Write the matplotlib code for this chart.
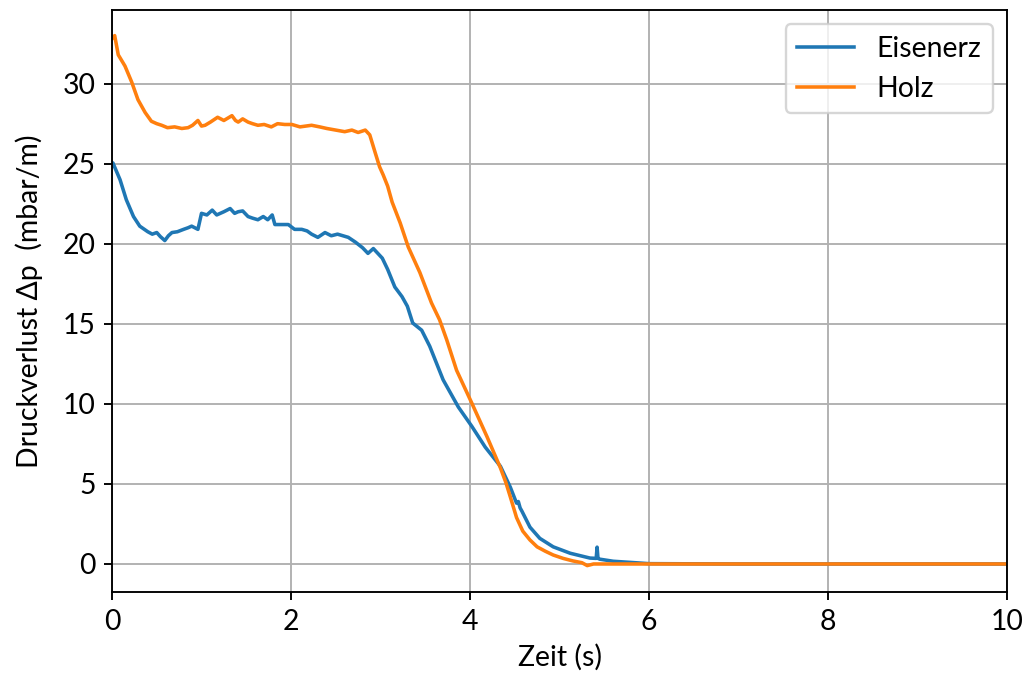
import matplotlib
matplotlib.use("Agg")
import matplotlib.pyplot as plt

plt.rcParams['font.family'] = ['Lato', 'DejaVu Sans']
plt.rcParams['font.size'] = 12

# Holz (orange)
t_holz = [0.0, 0.03, 0.07, 0.145, 0.22, 0.29, 0.37, 0.44, 0.5, 0.555, 0.62, 0.7, 0.78, 0.85, 0.9, 0.96, 1.0, 1.04,
          1.1, 1.18, 1.25, 1.34, 1.38, 1.41, 1.46, 1.52, 1.57, 1.63, 1.7, 1.78, 1.85, 1.93, 2.01, 2.1, 2.23,
          2.32, 2.4, 2.5, 2.6, 2.68, 2.75, 2.83, 2.88, 2.94, 2.99, 3.03, 3.08, 3.13, 3.22, 3.31, 3.44,
          3.57, 3.66, 3.74, 3.85, 4.02, 4.19, 4.34, 4.4, 4.45, 4.52, 4.59, 4.67, 4.75, 4.84, 4.93, 5.04,
          5.15, 5.25, 5.31, 5.38, 5.45, 5.6, 6.0, 7.0, 8.0, 9.0, 10.0]
v_holz = [32.8, 33.0, 31.8, 31.1, 30.1, 29.0, 28.2, 27.65, 27.5, 27.4, 27.25, 27.3, 27.2, 27.25, 27.4, 27.7, 27.35, 27.4,
          27.6, 27.9, 27.7, 28.0, 27.7, 27.6, 27.8, 27.6, 27.5, 27.4, 27.45, 27.3, 27.5, 27.45, 27.45, 27.3, 27.4,
          27.3, 27.2, 27.1, 27.0, 27.1, 26.95, 27.1, 26.8, 25.7, 24.8, 24.3, 23.6, 22.6, 21.3, 19.8, 18.2,
          16.3, 15.25, 14.0, 12.1, 10.05, 7.95, 6.0, 5.1, 4.2, 2.9, 2.05, 1.5, 1.07, 0.8, 0.56, 0.35,
          0.19, 0.08, -0.1, 0.0, 0.0, 0.0, 0.0, 0.0, 0.0, 0.0, 0.0]

# Eisenerz (blue)
t_eisen = [0.0, 0.01, 0.09, 0.16, 0.24, 0.31, 0.4, 0.45, 0.5, 0.54, 0.59, 0.63, 0.67, 0.73, 0.8, 0.85, 0.89, 0.96,
           1.0, 1.06, 1.12, 1.17, 1.25, 1.32, 1.37, 1.41, 1.46, 1.52, 1.57, 1.63, 1.69, 1.74, 1.79, 1.82,
           1.9, 1.97, 2.04, 2.12, 2.18, 2.23, 2.3, 2.38, 2.45, 2.52, 2.58, 2.64, 2.72, 2.8, 2.86, 2.92,
           2.97, 3.02, 3.08, 3.16, 3.24, 3.3, 3.36, 3.46, 3.55, 3.7, 3.87, 4.02, 4.17, 4.34, 4.45, 4.52,
           4.54, 4.56, 4.58, 4.67, 4.78, 4.93, 5.12, 5.34, 5.41, 5.42, 5.43, 5.45, 5.6, 5.79, 6.0, 7.0,
           8.0, 9.0, 10.0]
v_eisen = [24.9, 25.05, 24.0, 22.75, 21.7, 21.1, 20.75, 20.6, 20.7, 20.45, 20.2, 20.5, 20.7, 20.75, 20.9, 21.0, 21.1, 20.9,
           21.9, 21.8, 22.1, 21.8, 22.0, 22.2, 21.9, 22.0, 22.05, 21.7, 21.6, 21.5, 21.7, 21.5, 21.8, 21.2,
           21.2, 21.2, 20.9, 20.9, 20.8, 20.6, 20.4, 20.7, 20.5, 20.6, 20.5, 20.4, 20.1, 19.75, 19.4, 19.7,
           19.4, 19.1, 18.4, 17.3, 16.7, 16.1, 15.05, 14.6, 13.6, 11.5, 9.8, 8.6, 7.3, 6.1, 4.8, 3.8,
           3.9, 3.5, 3.3, 2.3, 1.6, 1.07, 0.67, 0.37, 0.35, 1.05, 0.35, 0.3, 0.17, 0.1, 0.02, 0.0,
           0.0, 0.0, 0.0]

x_ticks = [0, 2, 4, 6, 8, 10]
y_ticks = [0, 5, 10, 15, 20, 25, 30]

fig = plt.figure(figsize=(1023 / 170.5, 677 / 170.5), dpi=170.5)
ax = fig.add_axes([112 / 1023, 1 - 592 / 677, (1007 - 112) / 1023, (592 - 10) / 677])
ax.plot(t_eisen, v_eisen, color='#1f77b4', label='Eisenerz')
ax.plot(t_holz, v_holz, color='#ff7f0e', label='Holz')
ax.set_xlim(0, 10)
ax.set_ylim(-1.75, 34.6)
ax.set_xticks(x_ticks)
ax.set_yticks(y_ticks)
ax.grid(True)
ax.set_xlabel('Zeit (s)')
ax.set_ylabel('Druckverlust Δp  (mbar/m)', labelpad=8)
ax.legend(loc='upper right')
fig.savefig('out.png', dpi=170.5)
